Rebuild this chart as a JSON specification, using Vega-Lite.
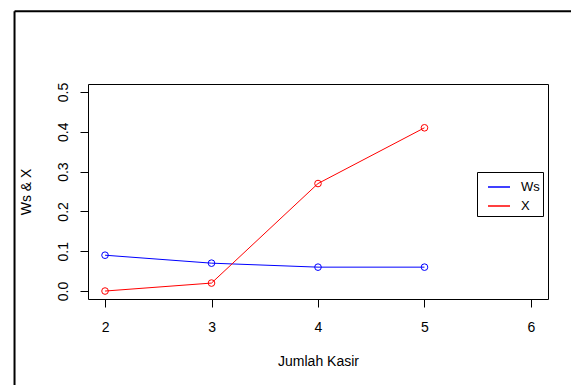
{
  "$schema": "https://vega.github.io/schema/vega-lite/v6.json",
  "autosize": {"type": "none"},
  "width": 460,
  "height": 215,
  "padding": {"left": 88, "top": 84, "right": 23, "bottom": 86},
  "background": "white",
  "config": {
    "font": "Liberation Sans",
    "view": {"stroke": "black", "strokeWidth": 1},
    "axis": {"labelColor": "black", "titleColor": "black", "tickColor": "black", "labelFontWeight": "normal", "titleFontWeight": "normal", "labelFont": "Liberation Sans", "titleFont": "Liberation Sans"}
  },
  "data": {"values": [
    {"kasir": 2, "series": "Ws", "value": 0.09},
    {"kasir": 3, "series": "Ws", "value": 0.07},
    {"kasir": 4, "series": "Ws", "value": 0.06},
    {"kasir": 5, "series": "Ws", "value": 0.06},
    {"kasir": 2, "series": "X", "value": 0.0},
    {"kasir": 3, "series": "X", "value": 0.02},
    {"kasir": 4, "series": "X", "value": 0.27},
    {"kasir": 5, "series": "X", "value": 0.41}
  ]},
  "layer": [
    {
      "mark": {"type": "line", "strokeWidth": 1},
      "encoding": {
        "x": {"field": "kasir", "type": "quantitative", "title": "Jumlah Kasir",
          "scale": {"domain": [1.84, 6.16], "nice": false, "zero": false},
          "axis": {"values": [2, 3, 4, 5, 6], "format": "d", "domain": false, "grid": false, "tickSize": 8, "labelFontSize": 14, "labelPadding": 13, "titleFontSize": 14, "titlePadding": 20}},
        "y": {"field": "value", "type": "quantitative", "title": "Ws & X",
          "scale": {"domain": [-0.02, 0.52], "nice": false, "zero": false},
          "axis": {"values": [0, 0.1, 0.2, 0.3, 0.4, 0.5], "format": ".1f", "domain": false, "grid": false, "tickSize": 8, "labelAngle": -90, "labelAlign": "center", "labelBaseline": "alphabetic", "labelFontSize": 14, "labelPadding": 13, "titleFontSize": 14, "titlePadding": 23}},
        "color": {"field": "series", "type": "nominal",
          "scale": {"domain": ["Ws", "X"], "range": ["#0000ff", "#ff0000"]},
          "legend": {"title": null, "orient": "none", "legendX": 389, "legendY": 88, "symbolType": "stroke", "symbolSize": 484, "symbolStrokeWidth": 1.5, "symbolOffset": 7, "labelFontSize": 13, "labelColor": "black", "labelOffset": 10, "padding": 3, "rowPadding": -7, "strokeColor": "black", "fillColor": "white"}
        }
      }
    },
    {
      "mark": {"type": "point", "shape": "circle", "filled": false, "size": 44, "strokeWidth": 1, "opacity": 1},
      "encoding": {
        "x": {"field": "kasir", "type": "quantitative"},
        "y": {"field": "value", "type": "quantitative"},
        "color": {"field": "series", "type": "nominal", "legend": null}
      }
    },
    {
      "data": {"values": [{"part": "frame"}]},
      "mark": {"type": "rule", "color": "black", "strokeWidth": 2},
      "encoding": {"x": {"datum": 1.15}, "y": {"datum": 0.703}, "y2": {"datum": -0.5}}
    },
    {
      "data": {"values": [{"part": "frame"}]},
      "mark": {"type": "rule", "color": "black", "strokeWidth": 2},
      "encoding": {"x": {"datum": 1.15}, "x2": {"datum": 8}, "y": {"datum": 0.703}}
    }
  ]
}
